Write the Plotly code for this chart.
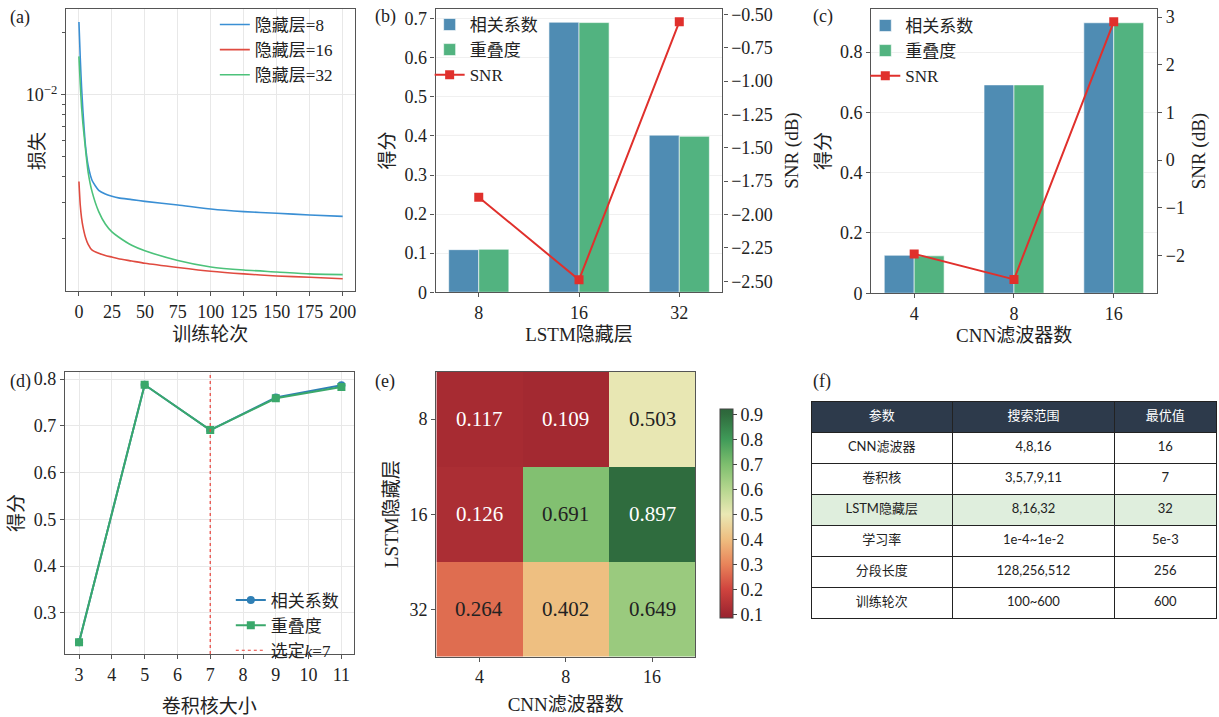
import plotly.graph_objects as go

W, H = 1219, 717
FONT = "Liberation Serif, Noto Sans CJK SC, serif"
TFONT = "Lato, Noto Sans CJK SC, sans-serif"
INK = "#222222"
FRAME = "#555555"
GRID = "#e8e8e8"

# ---------------- data ----------------
# (a) training loss per epoch for three LSTM hidden sizes
epochs = [0, 1, 2, 3, 5, 7, 10, 15, 20, 25, 30, 40, 50, 75, 100, 125, 150, 175, 200]
loss_h8 = [0.0226, 0.0151, 0.0109, 0.00843, 0.00564, 0.00453, 0.00384, 0.00344, 0.00330,
           0.00322, 0.00316, 0.00310, 0.00304, 0.00292, 0.00279, 0.00271, 0.00266, 0.00261, 0.00257]
loss_h16 = [0.0038, 0.00292, 0.00252, 0.0023, 0.00203, 0.00188, 0.00176, 0.00170, 0.00166,
            0.00163, 0.00160, 0.00156, 0.00152, 0.00145, 0.00139, 0.00135, 0.00132, 0.0013, 0.00128]
loss_h32 = [0.0154, 0.01127, 0.00874, 0.00728, 0.00544, 0.00421, 0.00338, 0.00271, 0.00236,
            0.00216, 0.00204, 0.00186, 0.00175, 0.00157, 0.00146, 0.00141, 0.00138, 0.00135, 0.00134]

# (b) LSTM hidden size sweep
lstm_sizes = ["8", "16", "32"]
b_corr = [0.109, 0.691, 0.402]
b_overlap = [0.110, 0.690, 0.399]
b_snr = [-1.87, -2.49, -0.555]

# (c) CNN filter sweep
cnn_filters = ["4", "8", "16"]
c_corr = [0.126, 0.691, 0.897]
c_overlap = [0.124, 0.691, 0.897]
c_snr = [-1.965, -2.50, 2.90]

# (d) kernel size sweep
kernel_sizes = [3, 5, 7, 9, 11]
d_corr = [0.237, 0.788, 0.691, 0.761, 0.787]
d_overlap = [0.237, 0.788, 0.691, 0.759, 0.783]
selected_k = 7

# (e) grid search: rows = LSTM hidden size, cols = CNN filters
heat_rows = ["8", "16", "32"]
heat_cols = ["4", "8", "16"]
heat_z = [[0.117, 0.109, 0.503],
          [0.126, 0.691, 0.897],
          [0.264, 0.402, 0.649]]

# (f) hyper-parameter table
tab_header = ["参数", "搜索范围", "最优值"]
tab_param = ["CNN滤波器", "卷积核", "LSTM隐藏层", "学习率", "分段长度", "训练轮次"]
tab_range = ["4,8,16", "3,5,7,9,11", "8,16,32", "1e-4~1e-2", "128,256,512", "100~600"]
tab_best = ["16", "7", "32", "5e-3", "256", "600"]
tab_highlight = "LSTM隐藏层"


def fx(p):
    return p / W


def fy(p):
    return 1 - p / H


def ax(**kw):
    base = dict(showline=True, linecolor=FRAME, linewidth=1.3, mirror=True,
                ticks="outside", ticklen=4, tickcolor=FRAME, tickwidth=1,
                tickfont=dict(size=18, color=INK, family=FONT),
                showgrid=False, zeroline=False,
                title_font=dict(size=19, color=INK, family=FONT))
    base.update(kw)
    return base


fig = go.Figure()

# ---------------- (a) ----------------
for name, ys, col in [("隐藏层=8", loss_h8, "#3a8fd4"),
                      ("隐藏层=16", loss_h16, "#e04b40"),
                      ("隐藏层=32", loss_h32, "#4cc27a")]:
    fig.add_trace(go.Scatter(x=epochs, y=ys, mode="lines", name=name,
                             line=dict(color=col, width=1.6, shape="spline", smoothing=0.6),
                             xaxis="x", yaxis="y", legend="legend"))

# ---------------- (b) ----------------
BAR_BLUE = "#4f8cb3"
BAR_GREEN = "#52b380"
SNR_RED = "#e0302c"
fig.add_trace(go.Bar(x=lstm_sizes, y=b_corr, name="相关系数", marker=dict(color=BAR_BLUE, line=dict(color="#ffffff", width=0.6)),
                     xaxis="x2", yaxis="y2", legend="legend2", offsetgroup="c"))
fig.add_trace(go.Bar(x=lstm_sizes, y=b_overlap, name="重叠度", marker=dict(color=BAR_GREEN, line=dict(color="#ffffff", width=0.6)),
                     xaxis="x2", yaxis="y2", legend="legend2", offsetgroup="o"))
fig.add_trace(go.Scatter(x=lstm_sizes, y=b_snr, name="SNR", mode="lines+markers",
                         line=dict(color=SNR_RED, width=2), marker=dict(symbol="square", size=9, color=SNR_RED),
                         xaxis="x2", yaxis="y3", legend="legend2"))

# ---------------- (c) ----------------
fig.add_trace(go.Bar(x=cnn_filters, y=c_corr, name="相关系数", marker=dict(color=BAR_BLUE, line=dict(color="#ffffff", width=0.6)),
                     xaxis="x4", yaxis="y4", legend="legend3", offsetgroup="c"))
fig.add_trace(go.Bar(x=cnn_filters, y=c_overlap, name="重叠度", marker=dict(color=BAR_GREEN, line=dict(color="#ffffff", width=0.6)),
                     xaxis="x4", yaxis="y4", legend="legend3", offsetgroup="o"))
fig.add_trace(go.Scatter(x=cnn_filters, y=c_snr, name="SNR", mode="lines+markers",
                         line=dict(color=SNR_RED, width=2), marker=dict(symbol="square", size=9, color=SNR_RED),
                         xaxis="x4", yaxis="y5", legend="legend3"))

# ---------------- (d) ----------------
D_RANGE = [0.212, 0.816]
fig.add_trace(go.Scatter(x=kernel_sizes, y=d_corr, name="相关系数", mode="lines+markers",
                         line=dict(color="#2f7fb5", width=2), marker=dict(symbol="circle", size=8, color="#2f7fb5"),
                         xaxis="x6", yaxis="y6", legend="legend4"))
fig.add_trace(go.Scatter(x=kernel_sizes, y=d_overlap, name="重叠度", mode="lines+markers",
                         line=dict(color="#3aa86b", width=2), marker=dict(symbol="square", size=8, color="#3aa86b"),
                         xaxis="x6", yaxis="y6", legend="legend4"))
fig.add_trace(go.Scatter(x=[selected_k, selected_k], y=D_RANGE, name="选定<i>k</i>=%d" % selected_k, mode="lines",
                         line=dict(color="#e8413a", width=1.2, dash="dot"),
                         xaxis="x6", yaxis="y6", legend="legend4"))

# ---------------- (e) ----------------
ZMIN, ZMAX = 0.085, 0.92
scale_pts = [(0.0, "#9a2330"), (0.1, "#9e2630"), (0.2, "#d0443e"), (0.3, "#e8845a"), (0.4, "#eebe80"),
             (0.5, "#eae8b4"), (0.6, "#b5d68e"), (0.7, "#7dbe6e"), (0.8, "#3f9a58"), (0.9, "#2f6b3d"), (1.0, "#2d663b")]
colorscale = []
for v, c in scale_pts:
    t = min(max((v - ZMIN) / (ZMAX - ZMIN), 0.0), 1.0)
    if colorscale and t <= colorscale[-1][0]:
        colorscale[-1] = [t, c]
    else:
        colorscale.append([t, c])
colorscale[0][0] = 0.0
colorscale[-1][0] = 1.0

fig.add_trace(go.Heatmap(z=heat_z, x=heat_cols, y=heat_rows, zmin=ZMIN, zmax=ZMAX,
                         colorscale=colorscale, xaxis="x7", yaxis="y7", showscale=True,
                         colorbar=dict(x=fx(711), xanchor="left", y=fy(520), yanchor="middle",
                                       len=234 / H, lenmode="fraction", thickness=13,
                                       outlinecolor="#444", outlinewidth=1,
                                       tickvals=[0.1, 0.2, 0.3, 0.4, 0.5, 0.6, 0.7, 0.8, 0.9],
                                       ticks="outside", ticklen=4, tickcolor="#444",
                                       tickfont=dict(size=18, color=INK, family=FONT))))

annotations = []
for i, r in enumerate(heat_rows):
    for j, c in enumerate(heat_cols):
        v = heat_z[i][j]
        # category axes: place by position index
        annotations.append(dict(x=j, y=i, xref="x7", yref="y7", text="%.3f" % v, showarrow=False,
                                font=dict(size=21, family=FONT,
                                          color="#ffffff" if (v < 0.2 or v > 0.85) else INK)))

# ---------------- (f) ----------------
row_fill = ["#dfeedd" if p == tab_highlight else "#ffffff" for p in tab_param]
fig.add_trace(go.Table(
    domain=dict(x=[fx(811.7), fx(1218)], y=[0.0, fy(405.7)]),
    columnwidth=[142, 163, 102],
    header=dict(values=tab_header, fill_color="#2d3a4b", height=31,
                font=dict(color="#ffffff", size=13, family=TFONT),
                line=dict(color="#222222", width=1), align="center"),
    cells=dict(values=[tab_param, tab_range, tab_best], fill_color=[row_fill] * 3, height=31,
               font=dict(color=INK, size=13, family=TFONT),
               line=dict(color="#222222", width=1), align="center")))

# panel letters
for lab, x, y in [("(a)", 8, 14), ("(b)", 373, 13), ("(c)", 812, 13),
                  ("(d)", 8, 385), ("(e)", 373, 385), ("(f)", 812, 385)]:
    annotations.append(dict(text=lab, x=fx(x), y=fy(y), xref="paper", yref="paper",
                            xanchor="left", yanchor="middle", showarrow=False,
                            font=dict(size=18, family=FONT, color=INK)))

# y title of (a), set beside the log tick label
annotations.append(dict(text="损失", x=fx(37), y=fy(150), xref="paper", yref="paper",
                        textangle=-90, showarrow=False, xanchor="center", yanchor="middle",
                        font=dict(size=19, family=FONT, color=INK)))

log_minor = [0.002, 0.003, 0.004, 0.005, 0.006, 0.007, 0.008, 0.009, 0.02]

legend_common = dict(bgcolor="rgba(255,255,255,0)", borderwidth=0, tracegroupgap=0,
                     font=dict(size=17, family=FONT, color=INK), xanchor="left", yanchor="top",
                     itemwidth=30)

fig.update_layout(
    width=W, height=H, margin=dict(l=0, r=0, t=0, b=0),
    paper_bgcolor="white", plot_bgcolor="white",
    font=dict(family=FONT, color=INK),
    barmode="group", bargap=0.4, bargroupgap=0.0,
    annotations=annotations,
    # (a)
    xaxis=ax(domain=[fx(66), fx(355)], anchor="y", range=[-9.85, 209.1],
             tickvals=[0, 25, 50, 75, 100, 125, 150, 175, 200], showgrid=True, gridcolor=GRID,
             title=dict(text="训练轮次", standoff=6)),
    yaxis=ax(domain=[fy(293), fy(5)], anchor="x", type="log", range=[-2.954, -1.582],
             tickvals=[0.01], ticktext=["10<sup>−2</sup>"], showgrid=True, gridcolor=GRID,
             minor=dict(tickvals=log_minor, ticks="outside", ticklen=2.5, tickcolor=FRAME, showgrid=False)),
    # (b)
    xaxis2=ax(domain=[fx(436), fx(723)], anchor="y2", type="category", range=[-0.43, 2.43],
              title=dict(text="LSTM隐藏层", standoff=5)),
    yaxis2=ax(domain=[fy(294), fy(5)], anchor="x2", range=[0, 0.725],
              tickvals=[0, 0.1, 0.2, 0.3, 0.4, 0.5, 0.6, 0.7], showgrid=True, gridcolor="#f0f0f0",
              title=dict(text="得分", standoff=4)),
    yaxis3=ax(anchor="x2", overlaying="y2", side="right", range=[-2.583, -0.458],
              tickvals=[-2.5, -2.25, -2.0, -1.75, -1.5, -1.25, -1.0, -0.75, -0.5], tickformat=".2f",
              mirror=False, title=dict(text="SNR (dB)", standoff=12)),
    # (c)
    xaxis4=ax(domain=[fx(872), fx(1158)], anchor="y4", type="category", range=[-0.43, 2.434],
              title=dict(text="CNN滤波器数", standoff=5)),
    yaxis4=ax(domain=[fy(295), fy(5)], anchor="x4", range=[0, 0.943],
              tickvals=[0, 0.2, 0.4, 0.6, 0.8], showgrid=True, gridcolor="#f0f0f0",
              title=dict(text="得分", standoff=4)),
    yaxis5=ax(anchor="x4", overlaying="y4", side="right", range=[-2.79, 3.17],
              tickvals=[-2, -1, 0, 1, 2, 3], mirror=False,
              title=dict(text="SNR (dB)", standoff=7)),
    # (d)
    xaxis6=ax(domain=[fx(65), fx(354)], anchor="y6", range=[2.57, 11.375], dtick=1, tick0=3,
              showgrid=True, gridcolor=GRID, title=dict(text="卷积核大小", standoff=15)),
    yaxis6=ax(domain=[fy(663), fy(375)], anchor="x6", range=D_RANGE,
              tickvals=[0.3, 0.4, 0.5, 0.6, 0.7, 0.8], showgrid=True, gridcolor=GRID,
              title=dict(text="得分", standoff=5)),
    # (e)
    xaxis7=ax(domain=[fx(436.7), fx(695.7)], anchor="y7", type="category", range=[-0.5, 2.5],
              title=dict(text="CNN滤波器数", standoff=11)),
    yaxis7=ax(domain=[fy(665.7), fy(375)], anchor="x7", type="category", range=[2.5, -0.5],
              title=dict(text="LSTM隐藏层", standoff=5)),
    legend=dict(legend_common, x=fx(215), y=fy(3)),
    legend2=dict(legend_common, x=fx(430), y=fy(3)),
    legend3=dict(legend_common, x=fx(866), y=fy(4)),
    legend4=dict(legend_common, x=fx(231), y=fy(590)),
)

fig.write_html("out.html")
